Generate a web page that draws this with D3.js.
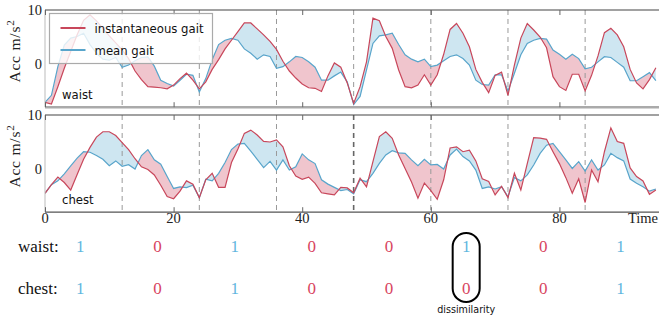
<!DOCTYPE html>
<html>
<head>
<meta charset="utf-8">
<script src="https://cdn.jsdelivr.net/npm/d3@7"></script>
<style>
  body { margin: 0; background: #fff; }
  svg { display: block; }
</style>
</head>
<body>
<div id="chart"></div>
<script>
// one sample per time unit, t = 0..95
const waistInst = [
  -7.1, -7.4, -4.2, -0.8, 2.3, 5.4, 8.1, 9.1, 8.0, 6.6,
  5.2, 3.9, 2.6, 1.0, -1.3, -2.9, -4.2, -4.3, -4.4, -4.6,
  -3.9, -2.7, -1.7, -3.0, -4.6, -3.3, -1.0, 0.8, 2.8, 4.4,
  6.0, 7.6, 7.6, 6.5, 5.4, 4.2, 2.7, 0.5, -1.3, -2.6,
  -3.7, -4.4, -4.5, -5.1, -2.2, 0.2, -0.6, -3.5, -7.3, -4.2,
  0.4, 8.5, 8.0, 5.1, 2.9, -1.1, -4.2, -4.4, -3.9, -2.0,
  -3.9, -2.0, 1.8, 6.4, 7.5, 5.7, 3.2, -1.0, -3.4, -5.3,
  -2.1, -1.5, -5.8, -0.2, 4.8, 7.5, 6.3, 5.0, 3.0, -2.35,
  -4.2, -4.9, -1.9, -1.9, -5.0, -2.1, 1.5, 5.8, 6.6, 5.4,
  3.2, -1.0, -3.5, -4.6, -2.9, -0.7
];
const waistMean = [
  -7.1, -5.8, -0.5, 3.5, 4.8, 5.1, 5.7, 3.6, 2.0, 0.9,
  0.7, 1.2, -0.6, -0.2, 0.6, 1.2, 1.3, -0.4, -3.0, -3.6,
  -4.1, -3.0, -1.9, -2.1, -5.2, -2.7, 0.8, 3.6, 4.4, 4.75,
  4.4, 2.8, 2.0, 0.9, 1.7, 1.4, -0.8, -0.5, 0.4, 1.4,
  1.2, 0.4, -0.6, -3.0, -3.0, -2.2, -1.5, -3.3, -7.5, -6.0,
  -1.1, 3.8, 5.2, 5.4, 5.7, 3.6, 1.7, 0.9, 0.4, 0.9,
  -0.5, -0.2, 0.6, 1.4, 1.7, 1.0, -0.2, -3.0, -3.8, -3.9,
  -2.0, -2.0, -5.0, -1.7, 1.7, 3.8, 4.4, 4.75, 4.6, 2.6,
  1.8, 0.9, 1.8, 1.0, -0.9, -0.6, 0.4, 1.35, 1.2, 0.3,
  -0.6, -3.1, -3.1, -2.35, -1.6, -3.1
];
const chestInst = [
  -4.5, -2.9, -1.5, -2.5, -3.9, -1.0, 1.8, 4.0, 5.9, 6.9,
  6.9, 6.2, 4.9, 3.6, 1.9, 0.4, -0.1, -1.1, -3.0, -5.1,
  -5.5, -4.1, -2.2, -2.8, -5.3, -2.0, -0.8, -3.4, -3.4, 1.2,
  3.7, 6.6, 7.2, 6.3, 5.1, 5.0, 5.4, 4.1, 0.6, -1.3,
  -1.9, -1.5, -2.65, -4.4, -4.6, -4.8, -3.4, -3.5, -4.4, -1.7,
  -3.3, 1.35, 6.0, 6.9, 5.7, 2.6, 0.1, -2.4, -5.4, -2.6,
  -4.0, -5.6, -2.0, 3.9, 4.1, 3.2, 3.5, 1.5, -1.8, -2.3,
  -4.8, -3.2, -5.3, -0.8, -3.9, 1.0, 5.8, 5.7, 5.5, 3.2,
  1.0, -1.6, -4.5, -1.8, -6.2, -0.2, -2.35, 3.2, 7.6, 5.1,
  4.75, 0.2, -1.4, -2.2, -4.7, -3.9
];
const chestMean = [
  -4.5, -2.9, -2.2, -0.9, 0.6, 2.0, 3.2, 3.1, 2.5, 1.8,
  0.6, 1.5, 0.5, 0.8, 0.0, 2.5, 3.6, 1.7, 0.9, -1.4,
  -3.6, -3.3, -3.45, -3.0, -5.3, -1.9, -2.2, -0.8, 1.2, 3.6,
  4.6, 4.75, 3.3, 1.8, 0.25, 1.4, -0.2, 1.7, -0.2, 0.4,
  2.8, 1.7, 1.0, -2.0, -2.8, -3.4, -4.0, -3.8, -4.6, -2.0,
  -2.35, -0.8, 1.05, 2.6, 3.4, 3.0, 2.9, 1.7, 0.6, 1.8,
  0.75, 0.85, 0.0, 2.6, 3.7, 2.3, 1.5, -0.2, -3.6, -3.3,
  -3.7, -3.3, -5.1, -1.6, -2.2, -1.1, 0.75, 2.9, 4.4, 4.75,
  3.2, 1.7, 0.1, 1.35, -0.4, 1.7, -0.2, 0.75, 2.9, 2.1,
  1.5, -1.85, -2.65, -3.3, -4.1, -3.7
];

const cycleBounds = [12, 24, 36, 48, 60, 72, 84];
const cycleCenters = [5.5, 17.5, 29.5, 41.5, 53.5, 65.5, 77.5, 89.5];
const waistBits = [1, 0, 1, 0, 0, 1, 0, 1];
const chestBits = [1, 0, 1, 0, 0, 0, 0, 1];
const xTicks = [0, 20, 40, 60, 80];
const yTicks = [0, 10];
const highlightCycle = 5;

const RED = '#c8475b';
const BLUE = '#58a5cb';
const RED_FILL = '#f0c5cd';
const BLUE_FILL = '#cee6f1';
const BIT_RED = '#d8455f';
const BIT_BLUE = '#5fb6de';
const SERIF = '"Liberation Serif", "DejaVu Serif", serif';
const SANS = '"DejaVu Sans", sans-serif';

const width = 659;
const height = 322;
const plotLeft = 45;
const plotRight = 659;
const panelHeight = 97.2;

const panels = [
  { name: 'waist', inst: waistInst, mean: waistMean, top: 10 },
  { name: 'chest', inst: chestInst, mean: chestMean, top: 115 },
];

const x = d3.scaleLinear().domain([0, 96]).range([plotLeft, 662.3]);

const svg = d3.select('#chart')
  .append('svg')
  .attr('width', width)
  .attr('height', height);

const defs = svg.append('defs');

panels.forEach((p, k) => {
  const bottom = p.top + panelHeight;
  const y = d3.scaleLinear().domain([-8, 10]).range([bottom, p.top]);
  const pts = p.inst.map((v, i) => ({ t: i, a: v, b: p.mean[i] }));

  defs.append('clipPath').attr('id', `plot-${k}`)
    .append('rect')
    .attr('x', plotLeft).attr('y', p.top)
    .attr('width', plotRight - plotLeft).attr('height', panelHeight);
  defs.append('clipPath').attr('id', `above-${k}`)
    .append('path').datum(pts)
    .attr('d', d3.area().x(d => x(d.t)).y0(p.top).y1(d => y(d.b)));
  defs.append('clipPath').attr('id', `below-${k}`)
    .append('path').datum(pts)
    .attr('d', d3.area().x(d => x(d.t)).y0(bottom).y1(d => y(d.b)));

  const g = svg.append('g').attr('clip-path', `url(#plot-${k})`);

  const between = d3.area()
    .x(d => x(d.t))
    .y0(d => y(d.b))
    .y1(d => y(d.a));

  // instantaneous above mean -> blue, below -> red
  g.append('path').datum(pts)
    .attr('clip-path', `url(#above-${k})`)
    .attr('fill', BLUE_FILL)
    .attr('d', between);
  g.append('path').datum(pts)
    .attr('clip-path', `url(#below-${k})`)
    .attr('fill', RED_FILL)
    .attr('d', between);

  // gait cycle boundaries
  g.selectAll('line.cycle')
    .data(cycleBounds)
    .enter().append('line')
      .attr('class', 'cycle')
      .attr('x1', d => x(d)).attr('x2', d => x(d))
      .attr('y1', p.top).attr('y2', bottom)
      .attr('stroke', d => (k === 1 && d === 48) ? '#666' : '#999')
      .attr('stroke-width', d => (k === 1 && d === 48) ? 1.6 : 1)
      .attr('stroke-dasharray', '5,4');

  const line = d3.line().x((d, i) => x(i)).y(d => y(d));
  g.append('path').datum(p.mean)
    .attr('fill', 'none').attr('stroke', BLUE).attr('stroke-width', 1.2)
    .attr('d', line);
  g.append('path').datum(p.inst)
    .attr('fill', 'none').attr('stroke', RED).attr('stroke-width', 1.2)
    .attr('d', line);

  // spines
  svg.append('line')
    .attr('x1', plotLeft).attr('x2', plotRight)
    .attr('y1', p.top).attr('y2', p.top)
    .attr('stroke', '#444').attr('stroke-width', 1.2);
  svg.append('line')
    .attr('x1', plotLeft).attr('x2', plotRight)
    .attr('y1', bottom).attr('y2', bottom)
    .attr('stroke', k === 0 ? '#aaa' : '#555')
    .attr('stroke-width', k === 0 ? 2.4 : 1.2);
  svg.append('line')
    .attr('x1', plotLeft).attr('x2', plotLeft)
    .attr('y1', p.top).attr('y2', bottom)
    .attr('stroke', '#bbb').attr('stroke-width', 1);

  // inward x ticks on top and bottom spines
  svg.append('g')
    .attr('transform', `translate(0,${bottom})`)
    .call(d3.axisBottom(x).tickValues(xTicks).tickSizeInner(-5)
      .tickSizeOuter(0).tickFormat(''))
    .call(a => a.select('.domain').remove())
    .selectAll('line').attr('stroke', '#666');
  svg.append('g')
    .attr('transform', `translate(0,${p.top})`)
    .call(d3.axisTop(x).tickValues(xTicks).tickSizeInner(-5)
      .tickSizeOuter(0).tickFormat(''))
    .call(a => a.select('.domain').remove())
    .selectAll('line').attr('stroke', '#666');

  // y tick labels
  svg.append('g')
    .selectAll('text')
    .data(yTicks)
    .enter().append('text')
      .attr('x', 42)
      .attr('y', d => y(d) + 5)
      .attr('text-anchor', 'end')
      .style('font-family', SERIF)
      .style('font-size', '14.5px')
      .attr('fill', '#222')
      .text(d => d);

  // y axis title
  const title = svg.append('text')
    .attr('transform', `translate(20,${p.top + 41}) rotate(-90)`)
    .attr('text-anchor', 'middle')
    .style('font-family', SERIF)
    .style('font-size', '15.5px')
    .style('letter-spacing', '0.8px')
    .attr('fill', '#222');
  title.append('tspan').text('Acc m/s');
  title.append('tspan')
    .attr('dy', -6)
    .style('font-size', '11px')
    .text('2');

  svg.append('text')
    .attr('x', 62)
    .attr('y', k === 0 ? 99 : 204)
    .style('font-family', SANS)
    .style('font-size', '11.7px')
    .attr('fill', '#111')
    .text(p.name);
});

// x tick labels under the chest panel
svg.append('g')
  .selectAll('text')
  .data(xTicks)
  .enter().append('text')
    .attr('x', d => x(d))
    .attr('y', 223)
    .attr('text-anchor', 'middle')
    .style('font-family', SERIF)
    .style('font-size', '14.5px')
    .attr('fill', '#222')
    .text(d => d);
svg.append('text')
  .attr('x', 658)
  .attr('y', 223)
  .attr('text-anchor', 'end')
  .style('font-family', SERIF)
  .style('font-size', '14.5px')
  .attr('fill', '#222')
  .text('Time');

// Legend
const legend = svg.append('g').attr('transform', 'translate(49.5,13.5)');
legend.append('rect')
  .attr('width', 163).attr('height', 50)
  .attr('fill', '#fff').attr('fill-opacity', 0.8)
  .attr('stroke', '#aaa').attr('stroke-width', 1.2);
const legendItems = [
  { label: 'instantaneous gait', color: RED, y: 14.5 },
  { label: 'mean gait', color: BLUE, y: 36.5 },
];
const legendRow = legend.selectAll('g')
  .data(legendItems)
  .enter().append('g')
    .attr('transform', d => `translate(0,${d.y})`);
legendRow.append('line')
  .attr('x1', 11).attr('x2', 36)
  .attr('stroke', d => d.color).attr('stroke-width', 2);
legendRow.append('text')
  .attr('x', 45).attr('y', 4.5)
  .style('font-family', SANS)
  .style('font-size', '11.7px')
  .attr('fill', '#111')
  .text(d => d.label);

// similarity bits per gait cycle
const rows = [
  { label: 'waist:', bits: waistBits, y: 252 },
  { label: 'chest:', bits: chestBits, y: 294 },
];
rows.forEach(r => {
  svg.append('text')
    .attr('x', 18).attr('y', r.y)
    .style('font-family', SERIF)
    .style('font-size', '17px')
    .attr('fill', '#111')
    .text(r.label);
  svg.append('g')
    .selectAll('text')
    .data(r.bits)
    .enter().append('text')
      .attr('x', (d, i) => x(cycleCenters[i]))
      .attr('y', r.y)
      .attr('text-anchor', 'middle')
      .style('font-family', SERIF)
      .style('font-size', '17px')
      .attr('fill', d => d === 1 ? BIT_BLUE : BIT_RED)
      .text(d => d);
});

const cx = x(cycleCenters[highlightCycle]);
svg.append('rect')
  .attr('x', cx - 13.5).attr('y', 233)
  .attr('width', 27).attr('height', 69)
  .attr('rx', 13.5)
  .attr('fill', 'none')
  .attr('stroke', '#000')
  .attr('stroke-width', 2);
svg.append('text')
  .attr('x', cx).attr('y', 313)
  .attr('text-anchor', 'middle')
  .style('font-family', SANS)
  .style('font-size', '9.6px')
  .attr('fill', '#111')
  .text('dissimilarity');
</script>
</body>
</html>
